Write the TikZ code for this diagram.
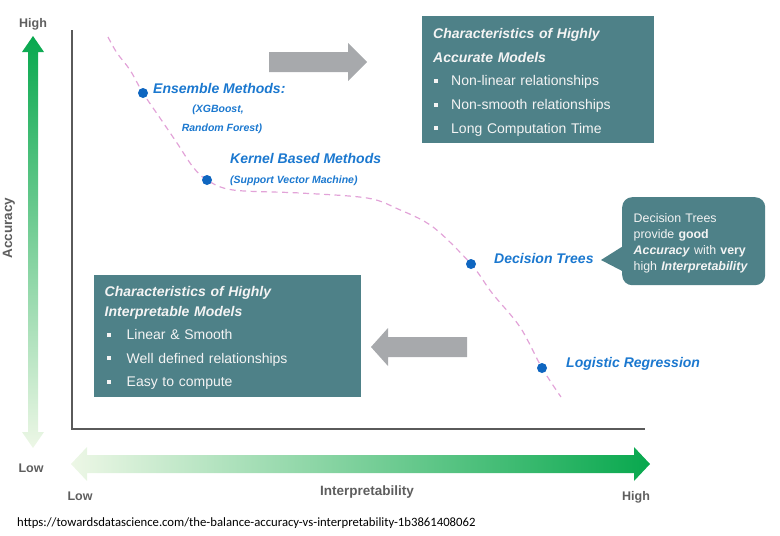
\documentclass[tikz,border=0pt]{standalone}
\usepackage{fontspec}
\setmainfont{Liberation Sans}
\newfontfamily\urlfont{Carlito}
\definecolor{tealc}{HTML}{4E8188}
\definecolor{boxtext}{HTML}{F4F4F4}
\definecolor{blueT}{HTML}{1B78CF}
\definecolor{dotc}{HTML}{0F66C0}
\definecolor{pinkc}{HTML}{E2A3D8}
\definecolor{arrowgray}{HTML}{A7A9AC}
\definecolor{axisc}{HTML}{5A5A5A}
\definecolor{axtext}{HTML}{5E5E5E}
\definecolor{greenD}{HTML}{08A84E}
\definecolor{greenL}{HTML}{EDF7E6}
\newcommand{\sqbul}{\rule[3pt]{4pt}{4pt}}
\begin{document}
\begin{tikzpicture}[x=1pt,y=-1pt,
  tealbox/.style={fill=tealc, inner sep=0pt},
  boxtxt/.style={text=boxtext, inner sep=0pt, align=left,
    font=\fontsize{14}{23.7}\selectfont},
  note/.style={fill=tealc, inner sep=0pt, rounded corners=10pt},
  notetxt/.style={text=boxtext, inner sep=0pt, align=left,
    font=\fontsize{12.4}{16}\selectfont},
  lbl/.style={text=blueT, font=\bfseries\itshape\fontsize{14}{16}\selectfont, inner sep=0pt},
  sublbl/.style={text=blueT, font=\bfseries\itshape\fontsize{10.5}{12}\selectfont, inner sep=0pt},
  ptdot/.style={circle, fill=dotc, minimum size=10pt, inner sep=0pt},
  axlbl/.style={text=axtext, font=\bfseries\fontsize{12.5}{14}\selectfont, inner sep=0pt},
  tradeoff/.style={draw=pinkc, dash pattern=on 6pt off 4.5pt, line width=1.2pt},
  grayarrow/.style={fill=arrowgray},
  axisline/.style={draw=axisc, line width=1.3pt}]
\useasboundingbox (0,0) rectangle (780,536);

% accuracy axis arrow
\shade[top color=greenD, bottom color=greenL]
  (33,36) -- (44,52) -- (38,52) -- (38,432) -- (44,432) -- (33,448) -- (22,432)
  -- (28,432) -- (28,52) -- (22,52) -- cycle;
% interpretability axis arrow
\shade[left color=greenL, right color=greenD]
  (71,464) -- (87,447) -- (87,455) -- (634,455) -- (634,447) -- (650,464)
  -- (634,481) -- (634,473) -- (87,473) -- (87,481) -- cycle;

\node[axlbl, anchor=base] (accHigh) at (33,27) {High};
\node[axlbl, anchor=base] (accLow) at (31,472) {Low};
\node[axlbl, rotate=90, font=\bfseries\fontsize{13.5}{15}\selectfont] (accLbl) at (9,228) {Accuracy};
\node[axlbl, anchor=base] (intLow) at (80,500) {Low};
\node[axlbl, anchor=base, font=\bfseries\fontsize{13.5}{15}\selectfont] (intLbl) at (367,495) {Interpretability};
\node[axlbl, anchor=base] (intHigh) at (636,500) {High};

% axes
\coordinate (ytop) at (72,30);
\coordinate (orig) at (72,429);
\coordinate (xend) at (645,429);
\draw[axisline] (ytop) -- (orig) -- (xend);

% gray arrows
\fill[grayarrow] (269,52) -- (348,52) -- (348,43) -- (367,62) -- (348,81) -- (348,72) -- (269,72) -- cycle;
\fill[grayarrow] (467,337) -- (388,337) -- (388,328) -- (371,347) -- (388,366) -- (388,357) -- (467,357) -- cycle;

% trade-off curve
\coordinate (c0) at (108,37);
\coordinate (c9) at (561,397);
\coordinate (ens) at (143,93);
\coordinate (kern) at (207,180);
\coordinate (dt) at (471,264);
\coordinate (lr) at (542,368);
\draw[tradeoff] plot[smooth, tension=0.55] coordinates {(c0) (117,53) (130,70) (ens) (160,118) (177,143) (193,167) (kern) (233,190) (300,193) (367,198) (398,209) (433,227) (dt) (492,293) (520,327) (lr) (c9)};
\node[ptdot] (ensDot) at (ens) {};
\node[ptdot] (kernDot) at (kern) {};
\node[ptdot] (dtDot) at (dt) {};
\node[ptdot] (lrDot) at (lr) {};

% labels
\node[lbl, anchor=base west] (ensL) at (153,93) {Ensemble Methods:};
\node[sublbl, anchor=base] (ensS1) at (218,112) {(XGBoost,};
\node[sublbl, anchor=base] (ensS2) at (222,131) {Random Forest)};
\node[lbl, anchor=base west] (kernL) at (230,163) {Kernel Based Methods};
\node[sublbl, anchor=base west] (kernS) at (230,183) {(Support Vector Machine)};
\node[lbl, anchor=base west] (dtL) at (494,263) {Decision Trees};
\node[lbl, anchor=base west] (lrL) at (566,367) {Logistic Regression};

% box of highly accurate models
\node[tealbox, anchor=north west, minimum width=232pt, minimum height=127pt] (accbox) at (422,16) {};
\node[boxtxt, text width=210pt, yshift=-2.5pt] (acctext) at (accbox.center)
  {\textbf{\textit{Characteristics of Highly}}\\
   \textbf{\textit{Accurate Models}}\\
   \makebox[18pt][l]{\hspace{1pt}\sqbul}Non-linear relationships\\
   \makebox[18pt][l]{\hspace{1pt}\sqbul}Non-smooth relationships\\
   \makebox[18pt][l]{\hspace{1pt}\sqbul}Long Computation Time};

% box of highly interpretable models
\node[tealbox, anchor=north west, minimum width=267pt, minimum height=122pt] (intbox) at (94,275) {};
\node[boxtxt, font=\fontsize{14}{23.5}\selectfont, text width=246pt, yshift=-1.5pt] (inttext) at (intbox.center)
  {\textbf{\textit{Characteristics of Highly}}\\[-3.5pt]
   \textbf{\textit{Interpretable Models}}\\
   \makebox[22pt][l]{\hspace{2.5pt}\sqbul}Linear \& Smooth\\
   \makebox[22pt][l]{\hspace{2.5pt}\sqbul}Well defined relationships\\
   \makebox[22pt][l]{\hspace{2.5pt}\sqbul}Easy to compute};

% callout
\node[note, anchor=north west, minimum width=143pt, minimum height=88pt] (dtnote) at (622,197) {};
\fill[tealc] (601,260) -- (628,243) -- (628,274) -- cycle;
\node[notetxt, text width=120pt, yshift=-2.5pt] (dttext) at (dtnote.center)
  {Decision Trees\\
   provide \textbf{good}\\
   \textbf{\textit{Accuracy}} with \textbf{very}\\
   high \textbf{\textit{Interpretability}}};

% source
\node[anchor=base west, inner sep=0pt, font=\urlfont\fontsize{12.7}{14}\selectfont] (src) at (17,526)
  {https://towardsdatascience.com/the-balance-accuracy-vs-interpretability-1b3861408062};
\end{tikzpicture}
\end{document}
